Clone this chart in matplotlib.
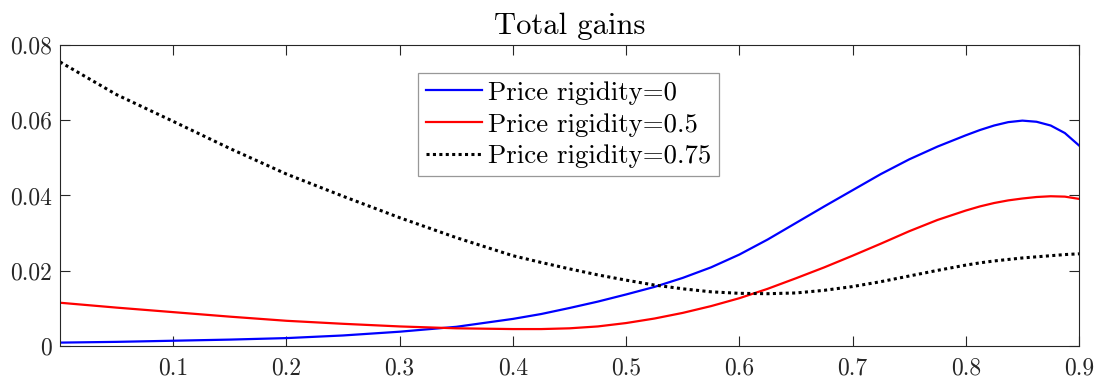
import numpy as np
import matplotlib
matplotlib.use("Agg")
import matplotlib.pyplot as plt

plt.rcParams["font.family"] = ["cmr10", "DejaVu Serif"]
plt.rcParams["mathtext.fontset"] = "cm"
plt.rcParams["axes.formatter.use_mathtext"] = True

# rigidity grid and total gains for each price rigidity level
rigidity_x = [0.0, 0.05, 0.1, 0.15, 0.2, 0.25, 0.3, 0.35, 0.4, 0.425, 0.45,
              0.475, 0.5, 0.525, 0.55, 0.575, 0.6, 0.625, 0.65, 0.675, 0.7,
              0.725, 0.75, 0.775, 0.8, 0.8125, 0.825, 0.8375, 0.85, 0.8625,
              0.875, 0.8875, 0.9]
gains_r0 = [0.0009, 0.0011, 0.0014, 0.0017, 0.0021, 0.0028, 0.0038, 0.0051,
            0.0072, 0.0085, 0.0101, 0.0118, 0.0137, 0.0157, 0.0181, 0.0209,
            0.0243, 0.0283, 0.0327, 0.0371, 0.0414, 0.0457, 0.0496, 0.0530,
            0.0560, 0.0574, 0.0586, 0.0595, 0.0599, 0.0596, 0.0586, 0.0566,
            0.0533]
gains_r05 = [0.0115, 0.0102, 0.0090, 0.0078, 0.0067, 0.0059, 0.0052, 0.0047,
             0.0045, 0.0045, 0.0047, 0.0052, 0.0061, 0.0073, 0.0088, 0.0106,
             0.0127, 0.0152, 0.0180, 0.0209, 0.0240, 0.0272, 0.0305, 0.0335,
             0.0360, 0.0371, 0.0380, 0.0387, 0.0392, 0.0396, 0.0398, 0.0397,
             0.0391]
gains_r075 = [0.0755, 0.0668, 0.0597, 0.0525, 0.0457, 0.0398, 0.0341, 0.0288,
              0.0240, 0.0222, 0.0205, 0.0189, 0.0175, 0.0162, 0.0152, 0.0144,
              0.0140, 0.0139, 0.0141, 0.0148, 0.0158, 0.0171, 0.0186, 0.0201,
              0.0215, 0.0221, 0.0226, 0.0230, 0.0234, 0.0237, 0.0240, 0.0243,
              0.0245]

series_labels = ["Price rigidity=0", "Price rigidity=0.5", "Price rigidity=0.75"]
x_ticks = [0.1, 0.2, 0.3, 0.4, 0.5, 0.6, 0.7, 0.8, 0.9]
x_ticklabels = ["0.1", "0.2", "0.3", "0.4", "0.5", "0.6", "0.7", "0.8", "0.9"]
y_ticks = [0, 0.02, 0.04, 0.06, 0.08]
y_ticklabels = ["0", "0.02", "0.04", "0.06", "0.08"]

W, H = 1099, 383
fig = plt.figure(figsize=(W / 100, H / 100), dpi=100)
ax = fig.add_axes([60 / W, 1 - 346 / H, (1079 - 60) / W, (346 - 45) / H])

axis_col = "#262626"
ax.plot(rigidity_x, gains_r0, color="#0000ff", lw=1.6, label=series_labels[0])
ax.plot(rigidity_x, gains_r05, color="#ff0000", lw=1.6, label=series_labels[1])
ax.plot(rigidity_x, gains_r075, color="black", lw=2.2, linestyle=(0, (1, 1.1)),
        label=series_labels[2])

ax.set_xlim(0, 0.9)
ax.set_ylim(0, 0.08)
ax.set_xticks(x_ticks)
ax.set_xticklabels(x_ticklabels)
ax.set_yticks(y_ticks)
ax.set_yticklabels(y_ticklabels)

ax.tick_params(direction="in", top=True, right=True, length=7.5, width=0.8,
               colors=axis_col, labelsize=17)
ax.tick_params(axis="x", pad=8)
ax.tick_params(axis="y", pad=6)
for s in ax.spines.values():
    s.set_color(axis_col)
    s.set_linewidth(0.8)

ax.set_title("Total gains", fontsize=22, pad=8, color="black")

leg = ax.legend(loc="upper left", bbox_to_anchor=(418 / W, 1 - 73 / H),
                bbox_transform=fig.transFigure, borderaxespad=0,
                fontsize=19.3, frameon=True, fancybox=False,
                handlelength=2.1, handletextpad=0.2, labelspacing=0.3,
                borderpad=0.3)
leg.get_frame().set_edgecolor("#7f7f7f")
leg.get_frame().set_linewidth(0.9)

fig.savefig("out.png", dpi=100)
